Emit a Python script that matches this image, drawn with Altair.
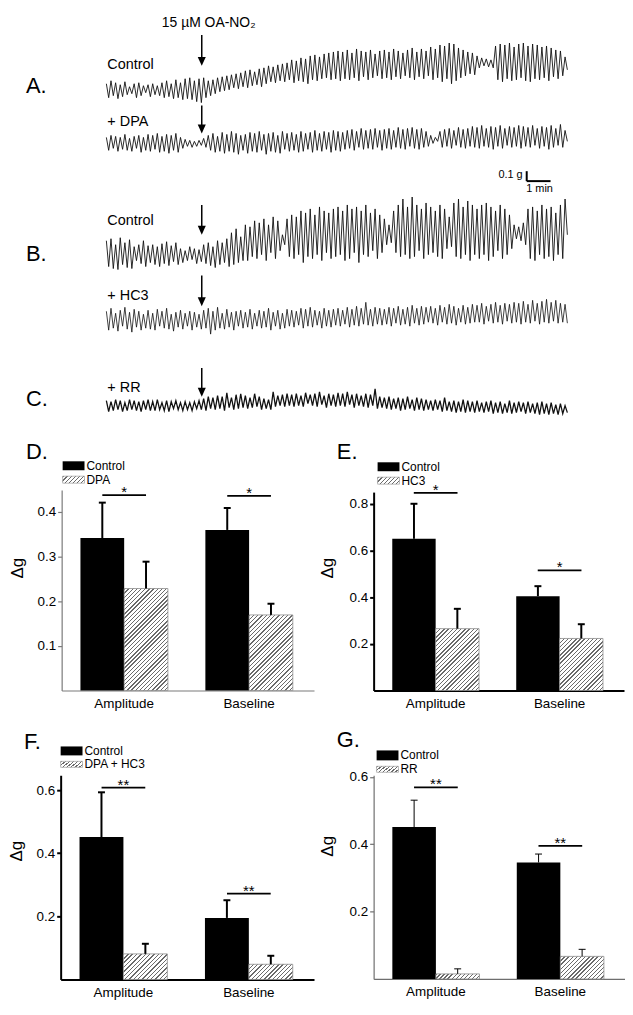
import altair as alt
import pandas as pd

FONT = "Liberation Sans"
W, H = 617, 999

# ---------------- recorded traces (units: 0.01 g, relative to each trace's starting level) ----------------
trace_a_control = [
    6, -8, 9, -6, 7, -9, 5, -7, 8, -5, 3, -4, 6, -8, 7, -6, 4, -3, 5, -7,
    6, -5, 4, -6, 7, -8, 9, -7, 6, -9, 10, -8, 7, -10, 11, -9, 12, -10, 9, -12,
    11, -13, 12, -8, 9, -6, 10, -4, 12, -2, 13, -1, 14, 0, 15, 2, 16, 1, 17, 3,
    19, 2, 20, 4, 18, 5, 21, 3, 22, 6, 24, 8, 23, 7, 25, 9, 26, 8, 27, 10,
    30, 7, 29, 9, 32, 8, 31, 6, 34, 10, 35, 9, 33, 11, 36, 12, 37, 10, 38, 11,
    39, 9, 38, 11, 40, 10, 37, 12, 41, 9, 39, 13, 38, 10, 40, 12, 36, 14, 39, 11,
    40, 12, 38, 10, 41, 13, 39, 11, 37, 14, 40, 12, 42, 10, 38, 13, 41, 11, 39, 14,
    43, 10, 41, 12, 45, 8, 44, 11, 47, 6, 46, 9, 42, 12, 40, 14, 38, 16, 37, 15,
    34, 22, 32, 24, 31, 23, 30, 22, 44, 10, 46, 8, 45, 11, 47, 9, 43, 10, 46, 12,
    47, 9, 44, 8, 46, 11, 45, 10, 43, 12, 44, 9, 42, 13, 40, 11, 39, 14, 33, 20,
]
trace_a_dpa = [
    6, -7, 8, -5, 7, -8, 6, -6, 9, -7, 5, -8, 7, -5, 8, -9, 6, -7, 9, -8,
    8, -6, 10, -9, 7, -8, 9, -10, 8, -7, 10, -9, 6, -5, 4, -3, 3, -4, 2, -3,
    3, -2, 5, -4, 8, -7, 10, -9, 7, -8, 11, -10, 9, -8, 12, -9, 10, -11, 8, -7,
    9, -10, 11, -8, 10, -9, 12, -7, 9, -11, 10, -8, 11, -9, 8, -10, 12, -6, 10, -8,
    11, -7, 9, -9, 12, -8, 10, -6, 11, -9, 13, -7, 10, -8, 12, -6, 11, -9, 13, -7,
    12, -8, 11, -6, 13, -5, 14, -7, 12, -4, 15, -6, 13, -5, 14, -6, 15, -4, 13, -7,
    14, -5, 15, -6, 13, -4, 16, -5, 14, -6, 15, -3, 16, -5, 14, -6, 15, -4, 12, -3,
    8, 0, 6, 2, 12, -4, 14, -3, 15, -5, 13, -2, 16, -4, 14, -5, 15, -3, 17, -4,
    16, -5, 18, -3, 15, -4, 17, -6, 16, -3, 18, -5, 15, -2, 17, -4, 16, -3, 18, -5,
    17, -3, 16, -4, 18, -2, 15, -5, 17, -3, 16, -6, 18, -4, 15, -2, 19, -4, 13, 2,
]
trace_b_control = [
    14, -12, 16, -14, 10, -15, 17, -10, 12, -13, 15, -14, 8, -6, 10, -9, 14, -12, 9, -8,
    10, -10, 8, -12, 11, -9, 13, -11, 9, -7, 12, -10, 6, -8, 4, -6, 8, -5, 6, -9,
    5, -7, 10, -9, 12, -11, 8, -13, 14, -10, 12, -8, 16, -12, 22, -10, 26, -8, 18, -6,
    30, -6, 28, -2, 34, -4, 32, 0, 36, -6, 30, 2, 38, -4, 34, 4, 20, 10, 36, -2,
    40, -4, 38, 0, 44, -8, 42, -2, 46, -4, 40, 0, 48, -6, 44, 2, 42, -4, 46, -2,
    48, 0, 44, -6, 50, -4, 46, 2, 48, -8, 44, 0, 50, -2, 42, 4, 46, -4, 40, 2,
    36, 10, 30, 12, 44, 2, 50, -2, 56, 0, 48, -4, 58, -2, 50, 4, 46, -4, 52, 0,
    48, 2, 44, -2, 50, -4, 46, 6, 38, 8, 52, -2, 56, -4, 48, 0, 54, -6, 50, 0,
    46, -4, 50, 0, 52, -6, 48, -2, 44, 4, 50, -4, 46, 0, 40, 6, 30, 16, 28, 14,
    32, 10, 46, -4, 48, -6, 44, 0, 50, -4, 46, -2, 48, -6, 42, 0, 50, -4, 56, 20,
]
trace_b_hc3 = [
    9, -10, 12, -8, 7, -11, 10, -6, 13, -9, 8, -12, 11, -7, 9, -10, 6, -8, 10, -9,
    7, -10, 11, -6, 9, -8, 12, -9, 6, -11, 8, -7, 10, -9, 7, -6, 9, -10, 8, -7,
    6, -9, 10, -8, 12, -14, 9, -10, 13, -8, 7, -9, 11, -7, 8, -10, 9, -6, 10, -8,
    8, -7, 11, -9, 7, -6, 10, -8, 9, -7, 12, -10, 8, -6, 10, -9, 7, -8, 11, -6,
    10, -7, 9, -5, 12, -8, 11, -6, 13, -7, 10, -5, 9, -8, 12, -6, 10, -7, 11, -5,
    12, -6, 10, -4, 13, -7, 11, -5, 14, -6, 12, -4, 18, -5, 11, -6, 13, -4, 12, -5,
    11, -4, 13, -6, 12, -3, 14, -5, 11, -4, 13, -6, 15, -3, 12, -5, 14, -4, 13, -2,
    14, -3, 12, -5, 15, -2, 13, -4, 16, -3, 14, -5, 12, -2, 15, -4, 13, -3, 16, -2,
    15, -2, 17, -4, 14, -1, 16, -3, 18, -2, 15, -4, 17, -1, 16, -3, 18, -2, 17, -4,
    19, -2, 16, -3, 20, -1, 17, -4, 19, -2, 21, -3, 18, -1, 20, -3, 17, -2, 16, -3,
]
trace_c_rr = [
    5, -6, 4, -5, 6, -4, 5, -6, 3, -5, 6, -4, 5, -5, 4, -6, 5, -4, 6, -5,
    4, -5, 6, -4, 3, -5, 5, -6, 4, -3, 5, -4, 3, -5, 4, -4, 3, -5, 4, -3,
    5, -4, 7, -5, 9, -3, 8, -4, 10, -3, 9, -5, 13, -2, 8, -4, 11, -3, 12, -2,
    10, -3, 8, -2, 12, -1, 9, -4, 7, -3, 6, -4, 14, -1, 10, 0, 11, -1, 12, 0,
    11, -1, 12, 0, 10, -1, 13, 2, 11, 0, 12, -1, 14, 1, 10, -2, 12, 0, 11, -1,
    13, 0, 12, -1, 14, 1, 11, -2, 12, 0, 10, -1, 12, -2, 11, 0, 17, -3, 9, -2,
    8, -3, 9, -4, 7, -3, 8, -5, 7, -4, 9, -3, 6, -5, 8, -4, 7, -5, 6, -4,
    5, -5, 6, -4, 5, -6, 8, -5, 4, -6, 5, -7, 4, -6, 6, -7, 5, -6, 4, -7,
    5, -6, 3, -7, 4, -6, 5, -8, 3, -7, 4, -8, 2, -7, 5, -8, 3, -7, 4, -6,
    3, -8, 4, -7, 2, -8, 3, -9, 4, -8, 2, -9, 3, -8, 1, -9, 2, -8, 0, -7,
]
trace_names = ["A control", "A + DPA", "B control", "B + HC3", "C + RR"]
trace_values = [trace_a_control, trace_a_dpa, trace_b_control, trace_b_hc3, trace_c_rr]
trace_duration_min = 19.33
oa_no2_time_min = 4.0
scalebar_g = 0.1
scalebar_min = 1.0

# ---------------- summary bars ----------------
groups = ["Amplitude", "Baseline"]
d_control = [0.341, 0.359]
d_control_top = [0.420, 0.408]
d_treat = [0.228, 0.169]
d_treat_top = [0.288, 0.194]
d_sig = [0.437, 0.435]
d_stars = ["*", "*"]

e_control = [0.650, 0.404]
e_control_top = [0.800, 0.447]
e_treat = [0.265, 0.223]
e_treat_top = [0.350, 0.284]
e_sig = [0.847, 0.515]
e_stars = ["*", "*"]

f_control = [0.451, 0.195]
f_control_top = [0.593, 0.251]
f_treat = [0.081, 0.048]
f_treat_top = [0.113, 0.075]
f_sig = [0.608, 0.272]
f_stars = ["**", "**"]

g_control = [0.451, 0.346]
g_control_top = [0.531, 0.371]
g_treat = [0.015, 0.067]
g_treat_top = [0.030, 0.088]
g_sig = [0.569, 0.395]
g_stars = ["**", "**"]

# ---------------- layout (pixels) ----------------
TRACE_LEVELS_G = [3.21, 2.67, 1.55, 0.89, 0.03]
TRACE_WIDTHS = [0.9, 0.9, 0.9, 0.8, 1.3]
TRACE_X_RANGE = [95, 559]
TRACE_Y_DOMAIN = [0, 4]
TRACE_Y_RANGE = [400, 0]
ARROW_TOP = [24, 95, 195, 266, 359]
ARROW_TIP = [55, 123, 225, 297, 388]
SCALEBAR_T0 = 17.625
SCALEBAR_G0 = 2.29
PAD_IN, PAD_OUT, ALIGN = 0.3, 0.16, 0.47


def hatch(w, h, period=3.0, dark="#6a6a6a", light="#ffffff", frac=0.33):
    a, b = 1.0 / h, 1.0 / w
    s = (a + b) / (a * a + b * b)
    n = max(2, int(round((w + h) / (2 ** 0.5 * period))))
    stops = []
    for k in range(n):
        o0, o1, o2 = round(k / n, 4), round((k + frac) / n, 4), round((k + 1) / n, 4)
        stops += [
            alt.GradientStop(offset=o0, color=dark),
            alt.GradientStop(offset=o1, color=dark),
            alt.GradientStop(offset=o1, color=light),
            alt.GradientStop(offset=o2, color=light),
        ]
    return alt.LinearGradient(gradient="linear", stops=stops, x1=0, y1=0,
                              x2=round(s * a, 4), y2=round(s * b, 4))


# ---------------- traces layer ----------------
tx = alt.Scale(domain=[0, trace_duration_min], range=TRACE_X_RANGE, nice=False, zero=False)
ty = alt.Scale(domain=TRACE_Y_DOMAIN, range=TRACE_Y_RANGE, nice=False, zero=False)

trace_charts = []
for name, vals, lvl, sw in zip(trace_names, trace_values, TRACE_LEVELS_G, TRACE_WIDTHS):
    n = len(vals)
    tdf = pd.DataFrame({"trace": name,
                        "t": [trace_duration_min * i / (n - 1) for i in range(n)],
                        "g": [lvl + v / 100.0 for v in vals]})
    trace_charts.append(alt.Chart(tdf).mark_line(strokeWidth=sw, color="#111111").encode(
        x=alt.X("t:Q", scale=tx, axis=None),
        y=alt.Y("g:Q", scale=ty, axis=None),
    ))
sb = pd.DataFrame({"t0": [SCALEBAR_T0], "t1": [SCALEBAR_T0 + scalebar_min],
                   "g0": [SCALEBAR_G0], "g1": [SCALEBAR_G0 + scalebar_g]})
sb_v = alt.Chart(sb).mark_rule(strokeWidth=2, color="black").encode(
    x=alt.X("t0:Q", scale=tx, axis=None), y=alt.Y("g0:Q", scale=ty, axis=None), y2="g1:Q")
sb_h = alt.Chart(sb).mark_rule(strokeWidth=2, color="black").encode(
    x=alt.X("t0:Q", scale=tx, axis=None), x2="t1:Q", y=alt.Y("g0:Q", scale=ty, axis=None))
trace_layer = alt.layer(*trace_charts, sb_v, sb_h)

adf = pd.DataFrame({"t": [oa_no2_time_min] * 5, "top": ARROW_TOP,
                    "shaft_end": [v - 7 for v in ARROW_TIP],
                    "head": [v - 4.5 for v in ARROW_TIP]})
arrow_shaft = alt.Chart(adf).mark_rule(strokeWidth=1.5, color="black").encode(
    x=alt.X("t:Q", scale=tx, axis=None), y=alt.Y("top:Q", scale=None), y2="shaft_end:Q")
arrow_head = alt.Chart(adf).mark_point(shape="M-0.9,-1L0.9,-1L0,1Z", filled=True, size=81,
                                       color="black", opacity=1).encode(
    x=alt.X("t:Q", scale=tx, axis=None), y=alt.Y("head:Q", scale=None))
arrow_layer = alt.layer(arrow_shaft, arrow_head)


# ---------------- bar panels ----------------
def panel(ctrl, ctrl_top, trt, trt_top, sig, stars, xr, ydom, yr, ticks,
          axcol, axw, ew, title_x, title_y):
    df = pd.DataFrame({"group": groups * 2,
                       "series": ["Control"] * 2 + ["Treatment"] * 2,
                       "mean": ctrl + trt, "top": ctrl_top + trt_top})
    sdf = pd.DataFrame({"group": groups, "level": sig, "stars": stars})
    xs = alt.Scale(domain=groups, range=xr, paddingInner=PAD_IN, paddingOuter=PAD_OUT, align=ALIGN)
    ys = alt.Scale(domain=ydom, range=yr, nice=False, zero=False)
    xax = alt.Axis(orient="bottom", offset=yr[0] - H, ticks=False, labelPadding=6,
                   labelFontSize=13.5, labelFont=FONT, labelColor="black", domainColor=axcol,
                   domainWidth=axw, grid=False, labelAngle=0, title=None)
    yax = alt.Axis(orient="left", offset=-xr[0], values=ticks, format=".1f", tickSize=4,
                   tickColor=axcol, tickWidth=axw, domainColor=axcol, domainWidth=axw,
                   labelFont=FONT, labelFontSize=13.5, labelColor="black", labelPadding=2,
                   grid=False, title="Δg", titleFont=FONT, titleFontSize=17,
                   titleFontWeight="normal", titleColor="black", titleX=title_x,
                   titleY=title_y, titleBaseline="middle", titleAlign="center")
    X = alt.X("group:N", scale=xs, axis=xax, title=None)
    XO = alt.XOffset("series:N", scale=alt.Scale(domain=["Control", "Treatment"],
                                                 paddingInner=0, paddingOuter=0))
    step = (xr[1] - xr[0]) / (len(groups) - PAD_IN + 2 * PAD_OUT)
    sub_w = step * (1 - PAD_IN) / 2
    px_per = (yr[0] - yr[1]) / (ydom[1] - ydom[0])
    base = alt.Chart(df)
    layers = [
        base.transform_filter(alt.datum.series == "Control").mark_bar(color="black").encode(
            x=X, xOffset=XO, y=alt.Y("mean:Q", scale=ys, axis=yax))
    ]
    for i, gname in enumerate(groups):
        h = max(2.0, trt[i] * px_per)
        layers.append(
            base.transform_filter((alt.datum.series == "Treatment") & (alt.datum.group == gname))
            .mark_bar(fill=hatch(sub_w, h), stroke="#8c8c8c", strokeWidth=0.8)
            .encode(x=X, xOffset=XO, y=alt.Y("mean:Q", scale=ys, axis=yax)))
    layers.append(base.mark_rule(strokeWidth=ew, color="black").encode(
        x=X, xOffset=XO, y=alt.Y("mean:Q", scale=ys, axis=yax), y2="top:Q"))
    layers.append(base.mark_tick(orient="horizontal", size=7, thickness=ew, color="black",
                                 opacity=1).encode(
        x=X, xOffset=XO, y=alt.Y("top:Q", scale=ys, axis=yax)))
    sbase = alt.Chart(sdf)
    layers.append(sbase.mark_tick(orient="horizontal", size=44, thickness=1.8, color="black",
                                  opacity=1).encode(
        x=X, y=alt.Y("level:Q", scale=ys, axis=yax)))
    layers.append(sbase.mark_text(font=FONT, fontSize=15, baseline="middle", dy=-3,
                                  color="black").encode(
        x=X, y=alt.Y("level:Q", scale=ys, axis=yax), text="stars:N"))
    return alt.layer(*layers)


panel_d = panel(d_control, d_control_top, d_treat, d_treat_top, d_sig, d_stars,
                [50, 304], [0, 0.448], [683.7, 482], [0.1, 0.2, 0.3, 0.4],
                "#7a7a7a", 1.2, 2, -44, 560)
panel_e = panel(e_control, e_control_top, e_treat, e_treat_top, e_sig, e_stars,
                [364, 616], [0, 0.85], [683.7, 484], [0.2, 0.4, 0.6, 0.8],
                "black", 2, 2, -46, 560)
panel_f = panel(f_control, f_control_top, f_treat, f_treat_top, f_sig, f_stars,
                [49, 304], [0, 0.647], [974.5, 769], [0.2, 0.4, 0.6],
                "black", 2, 2, -44, 845)
panel_g = panel(g_control, g_control_top, g_treat, g_treat_top, g_sig, g_stars,
                [364, 617], [0, 0.605], [974, 769], [0.2, 0.4, 0.6],
                "#6e6e6e", 1.2, 1, -46, 840)

# ---------------- legends ----------------
black_boxes = pd.DataFrame({"x0": [51, 368, 49, 367], "x1": [73, 390, 71, 389],
                            "y0": [453, 454, 740, 744], "y1": [462, 463, 749, 754]})
hatch_boxes = pd.DataFrame({"x0": [51, 368, 49, 367], "x1": [73, 390, 71, 389],
                            "y0": [468, 469, 755, 760], "y1": [475, 476, 761, 766]})
leg_black = alt.Chart(black_boxes).mark_rect(color="black").encode(
    x=alt.X("x0:Q", scale=None), x2="x1:Q", y=alt.Y("y0:Q", scale=None), y2="y1:Q")
leg_hatch = alt.Chart(hatch_boxes).mark_rect(fill=hatch(22, 7), stroke="#8c8c8c",
                                             strokeWidth=0.6).encode(
    x=alt.X("x0:Q", scale=None), x2="x1:Q", y=alt.Y("y0:Q", scale=None), y2="y1:Q")

# ---------------- text ----------------
left_text = pd.DataFrame([
    ("A.", 14, 75, 22), ("B.", 14, 244, 22), ("C.", 14, 390, 22),
    ("Control", 96, 54, 14.5), ("+ DPA", 96, 112, 14.5), ("Control", 96, 211, 14.5),
    ("+ HC3", 96, 287, 14.5), ("+ RR", 96, 379, 14.5),
    ("D.", 14, 444, 22), ("E.", 327, 444, 22), ("F.", 12, 736, 22), ("G.", 327, 734, 22),
    ("Control", 75, 457.5, 12), ("DPA", 75, 472, 12),
    ("Control", 392, 458.5, 12), ("HC3", 392, 472.5, 12),
    ("Control", 73, 744.5, 12), ("DPA + HC3", 73, 758, 12),
    ("Control", 391, 749, 12), ("RR", 391, 763, 12),
], columns=["text", "px", "py", "fs"])
center_text = pd.DataFrame([("15 µM OA-NO₂", 198, 12, 14), ("1 min", 531, 179, 11)],
                           columns=["text", "px", "py", "fs"])
right_text = pd.DataFrame([("0.1 g", 514, 165, 11)], columns=["text", "px", "py", "fs"])


def text_layer(df, align):
    return alt.Chart(df).mark_text(font=FONT, align=align, baseline="middle",
                                   color="black").encode(
        x=alt.X("px:Q", scale=None), y=alt.Y("py:Q", scale=None), text="text:N",
        size=alt.Size("fs:Q", scale=None, legend=None))


chart = alt.layer(
    trace_layer, arrow_layer, panel_d, panel_e, panel_f, panel_g,
    leg_black, leg_hatch,
    text_layer(left_text, "left"), text_layer(center_text, "center"),
    text_layer(right_text, "right"),
).resolve_scale(
    x="independent", y="independent", xOffset="independent", size="independent"
).properties(width=W, height=H, padding=0, background="white").configure_view(stroke=None)

chart.save("out.html", embed_options={"renderer": "svg", "actions": False})
